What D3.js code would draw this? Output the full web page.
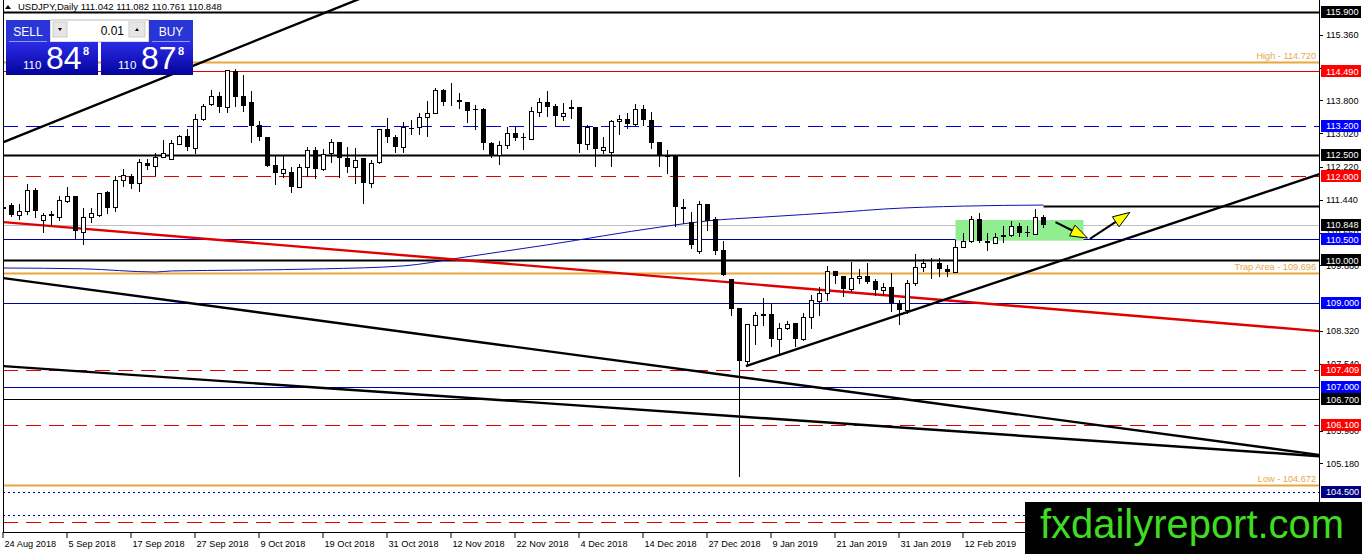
<!DOCTYPE html>
<html lang="en">
<head>
<meta charset="utf-8">
<title>USDJPY Daily</title>
<style>
  body {
    margin: 0;
    padding: 0;
    overflow: hidden;
    background: #fff;
  }
  text {
    font-family: "Liberation Sans", Arial, sans-serif;
  }
</style>
<script src="https://d3js.org/d3.v7.min.js"></script>
</head>
<body>
<script>

// daily bars (bar 0 = 24 Aug 2018)
var opens = [
  111.250,111.315,111.078,111.173,111.672,110.959,111.101,111.030,111.410,111.529,
  110.674,111.030,111.078,111.624,111.268,111.909,112.004,111.838,112.313,112.242,
  112.456,112.408,112.765,112.955,112.670,113.359,113.715,113.905,113.644,114.499,
  113.905,113.762,113.216,112.931,112.266,112.076,112.100,111.743,112.218,112.622,
  112.171,112.551,112.812,112.432,112.218,112.432,111.838,112.337,113.121,112.931,
  112.693,113.145,113.169,113.406,113.501,114.047,113.800,113.810,113.762,113.596,
  113.596,112.788,112.503,112.741,113.026,112.931,112.883,113.525,113.762,113.667,
  113.430,113.620,113.644,112.765,113.169,112.622,112.575,113.311,113.359,113.240,
  113.596,113.335,112.812,112.480,112.480,111.268,110.912,110.223,111.339,110.983,
  110.247,109.557,108.869,107.610,108.465,108.710,108.726,108.133,108.394,108.513,
  108.133,108.655,109.036,109.226,109.748,109.629,109.320,109.581,109.629,109.510,
  109.297,109.368,108.988,108.822,109.463,109.843,109.930,109.938,109.795,109.724,
  110.318,110.461,110.983,110.461,110.413,110.580,110.603,110.817,110.674,110.627,
  111.042
];
var highs = [
  111.434,111.363,111.339,111.814,111.719,111.125,111.173,111.529,111.743,111.540,
  111.244,111.244,111.610,111.648,112.004,112.171,112.051,112.408,112.408,112.551,
  112.860,112.860,112.978,113.121,113.478,113.715,114.047,113.999,114.530,114.546,
  114.404,114.023,113.311,112.940,112.503,112.480,112.218,112.290,112.693,112.693,
  112.646,112.883,112.820,112.693,112.670,112.440,112.385,113.130,113.383,112.978,
  113.288,113.335,113.501,113.786,114.095,114.071,114.214,113.976,113.770,113.691,
  113.620,112.812,112.836,113.169,113.169,113.026,113.644,113.857,114.023,113.715,
  113.738,113.810,113.650,113.216,113.170,112.931,113.335,113.453,113.501,113.715,
  113.691,113.525,112.820,112.622,112.490,111.458,111.149,111.410,111.350,111.030,
  110.461,109.560,108.880,108.500,108.774,109.106,108.988,108.513,108.560,108.520,
  108.750,109.178,109.368,109.867,109.750,109.630,109.961,109.795,109.938,109.557,
  109.463,109.700,109.059,109.534,110.152,110.033,110.057,110.057,109.890,110.484,
  110.651,111.054,111.125,110.651,110.651,110.817,110.935,110.888,110.817,111.220,
  111.082
];
var lows = [
  111.078,111.030,110.959,111.078,111.007,110.650,110.815,110.935,111.363,110.484,
  110.366,110.888,111.030,111.101,111.149,111.743,111.696,111.624,112.147,112.004,
  112.432,112.385,112.741,112.598,112.527,113.311,113.667,113.501,113.501,113.644,
  113.525,112.788,112.836,112.218,111.790,111.957,111.600,111.719,111.981,111.933,
  112.124,112.313,111.957,112.076,111.814,111.339,111.719,112.290,112.788,112.551,
  112.551,112.978,112.978,112.931,113.478,113.667,113.667,113.596,113.264,113.097,
  112.622,112.432,112.266,112.646,112.836,112.622,112.870,113.406,113.406,113.169,
  113.311,113.359,112.551,112.622,112.218,112.527,112.218,112.978,113.121,113.192,
  113.192,112.646,112.218,112.052,110.793,110.864,110.271,110.152,110.698,110.128,
  109.629,108.679,104.855,107.491,107.990,108.440,107.942,107.729,108.346,107.942,
  108.085,108.370,108.679,109.036,109.439,109.131,109.249,109.439,109.439,109.154,
  109.154,108.774,108.465,108.726,109.392,109.724,109.557,109.605,109.605,109.720,
  110.310,110.413,110.413,110.223,110.410,110.413,110.556,110.556,110.556,110.603,
  110.761
];
var closes = [
  111.280,111.078,111.173,111.672,111.173,111.078,111.054,111.434,111.529,110.698,
  111.030,111.125,111.600,111.244,111.909,112.028,111.814,112.337,112.242,112.456,
  112.551,112.788,112.955,112.693,113.359,113.667,113.905,113.644,114.522,113.881,
  113.667,113.192,112.931,112.242,112.076,112.171,111.743,112.218,112.622,112.171,
  112.527,112.812,112.432,112.218,112.385,111.838,112.313,113.121,112.931,112.693,
  113.169,113.130,113.406,113.501,114.047,113.762,113.810,113.762,113.549,113.572,
  112.788,112.503,112.741,113.026,112.907,112.907,113.549,113.762,113.644,113.430,
  113.501,113.644,112.765,113.169,112.646,112.693,113.311,113.359,113.240,113.596,
  113.335,112.788,112.480,112.456,111.268,111.220,110.366,111.339,110.935,110.223,
  109.653,108.845,107.610,108.489,108.702,108.726,108.133,108.394,108.489,108.133,
  108.655,109.059,109.226,109.748,109.629,109.320,109.581,109.629,109.486,109.297,
  109.368,108.988,108.822,109.463,109.843,109.938,109.938,109.795,109.724,110.318,
  110.461,110.983,110.461,110.413,110.556,110.603,110.817,110.651,110.660,111.030,
  110.848
];

// moving average, sampled at a few bars
var maBars   = [0, 10, 19, 21, 30, 40, 50, 57, 68, 82, 88, 95, 105, 110, 120, 130];
var maValues = [109.82, 109.80, 109.725, 109.75, 109.77, 109.80, 109.87, 110.06, 110.37,
                110.79, 110.94, 111.03, 111.15, 111.22, 111.29, 111.315];
var maEndLevel = 111.29;

var dateBars   = [0, 8, 16, 24, 32, 40, 48, 56, 64, 72, 80, 88, 96, 104, 112, 120];
var dateLabels = ["24 Aug 2018", "5 Sep 2018", "17 Sep 2018", "27 Sep 2018", "9 Oct 2018",
                  "19 Oct 2018", "31 Oct 2018", "12 Nov 2018", "22 Nov 2018", "4 Dec 2018",
                  "14 Dec 2018", "27 Dec 2018", "9 Jan 2019", "21 Jan 2019", "31 Jan 2019",
                  "12 Feb 2019"];

// scale values; the ones sitting under a level box only peek out, as in the picture
var priceTicks = [115.36, 114.58, 113.80, 113.02, 112.22, 111.44, 110.66, 109.88,
                  108.32, 107.54, 105.96, 105.18];

// horizontal levels
var solidBlack = [115.9, 112.5, 110.0];
var thinBlack  = [106.7];
var solidRed   = [114.49];
var dashRed    = [112.0, 107.409, 106.1];
var solidBlue  = [110.5, 109.0, 107.0];
var dashBlue   = [113.2];
var dotNavy    = [104.5];
// lines whose price boxes sit under the watermark
var hiddenRed  = [103.79];
var hiddenNavy = [103.95];
var zoneLevels = [114.72, 109.696, 104.672];
var zoneNames  = ["High", "Trap Area", "Low"];
var lastPrice  = 110.848;
var bidPrice   = 110.848;
var askPrice   = 110.878;
var lotSize    = "0.01";

// trend lines as [bar, price] pairs
var upperLine   = [[0, 112.81], [45, 116.25]];
var redLine     = [[0, 110.91], [164.5, 108.32]];
var downLineA   = [[0, 109.58], [164.5, 105.38]];
var downLineB   = [[0, 107.49], [164.5, 105.35]];
var supportLine = [[92.8, 107.49], [164.5, 112.05]];

var boxBars   = [119, 135];
var boxPrices = [110.96, 110.47];
var arrowStarts = [[131.5, 110.91], [135.8, 110.51]];
var arrowEnds   = [[135.5, 110.53], [140.8, 111.14]];

var W = 1362, H = 554;
var left = 3, right = 1319, bottom = 532;

var xs = d3.scaleLinear().domain([0, 164.5]).range([3.5, 1319.5]);
var ys = d3.scaleLinear().domain([115.9, 104.5]).range([12, 492]);

svg = d3.select('body').append('svg')
    .attr('width', W)
    .attr('height', H);

svg.append('rect').attr('width', W).attr('height', H).attr('fill', '#fff');

var defs = svg.append('defs');
defs.append('clipPath').attr('id', 'plotClip')
    .append('rect').attr('x', left).attr('y', 0).attr('width', right - left).attr('height', bottom);

var grad = defs.append('linearGradient').attr('id', 'panelBlue')
    .attr('x1', 0).attr('y1', 0).attr('x2', 0).attr('y2', 1);
grad.append('stop').attr('offset', '0%').attr('stop-color', '#2c2ce8');
grad.append('stop').attr('offset', '100%').attr('stop-color', '#03039c');

var plot = svg.append('g').attr('clip-path', 'url(#plotClip)');

function py(v) { return Math.round(ys(v)) + 0.5; }

var levelGroups = [
  {vals: dotNavy.concat(hiddenNavy), stroke: '#000080', width: 1, dash: '2,3'},
  {vals: dashRed.concat(hiddenRed),  stroke: '#e00000', width: 1, dash: '15,8'},
  {vals: dashBlue,   stroke: '#0000d0', width: 1,   dash: '15,8'},
  {vals: solidBlue,  stroke: '#0000a8', width: 1,   dash: null},
  {vals: solidRed,   stroke: '#e00000', width: 1,   dash: null},
  {vals: thinBlack,  stroke: '#000',    width: 1,   dash: null},
  {vals: [lastPrice],stroke: '#c0c0c0', width: 1,   dash: null},
  {vals: zoneLevels, stroke: '#eaa63c', width: 2.2, dash: null},
  {vals: solidBlack, stroke: '#000',    width: 2,   dash: null}
];

levelGroups.forEach(function(g) {
  plot.append('g').selectAll('line').data(g.vals).join('line')
      .attr('x1', left).attr('x2', right)
      .attr('y1', function(d) { return py(d); })
      .attr('y2', function(d) { return py(d); })
      .attr('stroke', g.stroke)
      .attr('stroke-width', g.width)
      .attr('stroke-dasharray', g.dash);
});

var tl = d3.line()
    .x(function(d) { return xs(d[0]); })
    .y(function(d) { return ys(d[1]); });

// moving average and its extension
var maPts = maBars.map(function(b, i) { return [b, maValues[i]]; });
plot.append('path').attr('d', d3.line().curve(d3.curveMonotoneX)
        .x(function(d) { return xs(d[0]); }).y(function(d) { return ys(d[1]); })(maPts))
    .attr('fill', 'none').attr('stroke', '#1010b0').attr('stroke-width', 1);
plot.append('line')
    .attr('x1', xs(130)).attr('x2', right)
    .attr('y1', py(maEndLevel)).attr('y2', py(maEndLevel))
    .attr('stroke', '#000').attr('stroke-width', 2);

[[redLine, '#e00000'], [upperLine, '#000'], [downLineA, '#000'], [downLineB, '#000'], [supportLine, '#000']]
  .forEach(function(l) {
    plot.append('path').attr('d', tl(l[0]))
        .attr('fill', 'none').attr('stroke', l[1]).attr('stroke-width', 2.4);
  });

plot.append('rect')
    .attr('x', xs(boxBars[0])).attr('y', ys(boxPrices[0]))
    .attr('width', xs(boxBars[1]) - xs(boxBars[0]))
    .attr('height', ys(boxPrices[1]) - ys(boxPrices[0]))
    .attr('fill', '#90ee90');

// candles
var bars = d3.range(opens.length);
var cg = plot.append('g');
cg.selectAll('line.wick').data(bars).join('line')
    .attr('class', 'wick')
    .attr('x1', function(i) { return xs(i); })
    .attr('x2', function(i) { return xs(i); })
    .attr('y1', function(i) { return Math.round(ys(highs[i])); })
    .attr('y2', function(i) { return Math.round(ys(lows[i])); })
    .attr('stroke', '#000').attr('stroke-width', 1);

cg.selectAll('rect.body').data(bars).join('rect')
    .attr('class', 'body')
    .each(function(i) {
      var yt = Math.round(ys(Math.max(opens[i], closes[i])));
      var yb = Math.round(ys(Math.min(opens[i], closes[i])));
      var el = d3.select(this);
      if (closes[i] >= opens[i]) {
        el.attr('x', xs(i) - 2).attr('y', yt + 0.5)
          .attr('width', 4).attr('height', Math.max(yb - yt, 0))
          .attr('fill', '#fff').attr('stroke', '#000').attr('stroke-width', 1);
      } else {
        el.attr('x', xs(i) - 2.5).attr('y', yt)
          .attr('width', 5).attr('height', Math.max(yb - yt, 1))
          .attr('fill', '#000');
      }
    });

// arrows
arrowStarts.forEach(function(s, k) {
  var x0 = xs(s[0]), y0 = ys(s[1]);
  var x1 = xs(arrowEnds[k][0]), y1 = ys(arrowEnds[k][1]);
  var dx = x1 - x0, dy = y1 - y0, len = Math.sqrt(dx * dx + dy * dy);
  var ux = dx / len, uy = dy / len;
  var hl = 17, hw = 6;
  var bx = x1 - ux * hl, by = y1 - uy * hl;
  plot.append('line').attr('x1', x0).attr('y1', y0).attr('x2', bx).attr('y2', by)
      .attr('stroke', '#000').attr('stroke-width', 2);
  plot.append('path')
      .attr('d', 'M' + x1 + ',' + y1 +
                 'L' + (bx - uy * hw) + ',' + (by + ux * hw) +
                 'L' + (bx + uy * hw) + ',' + (by - ux * hw) + 'Z')
      .attr('fill', '#ffff00').attr('stroke', '#000').attr('stroke-width', 1);
});

plot.append('g').selectAll('text').data(zoneLevels).join('text')
    .attr('x', right - 3)
    .attr('y', function(d) { return ys(d) - 3; })
    .attr('text-anchor', 'end')
    .attr('font-size', '9.2px')
    .attr('fill', '#e6a849')
    .text(function(d, i) { return zoneNames[i] + ' - ' + d.toFixed(3); });

// frame
svg.append('line').attr('x1', left + 0.5).attr('x2', left + 0.5).attr('y1', 0).attr('y2', bottom)
    .attr('stroke', '#000');
svg.append('line').attr('x1', right + 0.5).attr('x2', right + 0.5).attr('y1', 0).attr('y2', bottom + 1)
    .attr('stroke', '#000');
svg.append('line').attr('x1', left).attr('x2', right + 1).attr('y1', bottom + 0.5).attr('y2', bottom + 0.5)
    .attr('stroke', '#000');

// price axis
var ax = svg.append('g');
ax.selectAll('line').data(priceTicks).join('line')
    .attr('x1', right).attr('x2', right + 4)
    .attr('y1', function(d) { return py(d); }).attr('y2', function(d) { return py(d); })
    .attr('stroke', '#000');
ax.selectAll('text').data(priceTicks).join('text')
    .attr('x', right + 7).attr('y', function(d) { return ys(d) + 3.3; })
    .attr('font-size', '9.2px').attr('fill', '#000')
    .text(function(d) { return d.toFixed(3); });

var boxGroups = [
  {vals: solidBlack.concat(thinBlack), fill: '#000'},
  {vals: solidRed.concat(dashRed), fill: '#ff0000'},
  {vals: solidBlue.concat(dashBlue), fill: '#0000ff'},
  {vals: dotNavy, fill: '#000080'},
  {vals: [lastPrice], fill: '#000'}
];
boxGroups.forEach(function(g) {
  var gg = svg.append('g');
  gg.selectAll('rect').data(g.vals).join('rect')
      .attr('x', right + 2).attr('y', function(d) { return Math.round(ys(d)) - 6; })
      .attr('width', 40).attr('height', 12).attr('fill', g.fill);
  gg.selectAll('text').data(g.vals).join('text')
      .attr('x', right + 7).attr('y', function(d) { return ys(d) + 3.3; })
      .attr('font-size', '9.2px').attr('fill', '#fff')
      .text(function(d) { return d.toFixed(3); });
});

// time axis
var tx = svg.append('g');
tx.selectAll('line').data(dateBars).join('line')
    .attr('x1', function(d) { return xs(d) - 0.5; }).attr('x2', function(d) { return xs(d) - 0.5; })
    .attr('y1', bottom).attr('y2', bottom + 6)
    .attr('stroke', '#000');
tx.selectAll('text').data(dateBars).join('text')
    .attr('x', function(d) { return xs(d) + 1; }).attr('y', 547)
    .attr('font-size', '9.2px').attr('fill', '#000')
    .text(function(d, i) { return dateLabels[i]; });

// header
svg.append('path').attr('d', 'M5,9 L8,5 L11,9 Z').attr('fill', '#000');
svg.append('text').attr('x', 18).attr('y', 10).attr('font-size', '9.5px').attr('fill', '#000')
    .text('USDJPY,Daily ' + [opens[130], highs[130], lows[130], closes[130]]
        .map(function(v) { return v.toFixed(3); }).join(' '));

// one-click trading panel
var panel = svg.append('g');
panel.append('rect').attr('x', 50).attr('y', 20).attr('width', 99).attr('height', 22).attr('fill', '#fff')
    .attr('stroke', '#bbb');
panel.append('rect').attr('x', 53).attr('y', 22).attr('width', 14).attr('height', 15).attr('fill', '#e6e6e6')
    .attr('stroke', '#ccc');
panel.append('rect').attr('x', 129).attr('y', 22).attr('width', 16).attr('height', 15).attr('fill', '#e6e6e6')
    .attr('stroke', '#ccc');
panel.append('path').attr('d', 'M58,28 L62,28 L60,31 Z').attr('fill', '#000');
panel.append('path').attr('d', 'M135,31 L139,31 L137,28 Z').attr('fill', '#000');
panel.append('text').attr('x', 124).attr('y', 35).attr('text-anchor', 'end')
    .attr('font-size', '12px').attr('fill', '#000').text(lotSize);

[[6, 'SELL', bidPrice], [101, 'BUY', askPrice]].forEach(function(p, k) {
  var x = p[0];
  var bx = k === 0 ? 6 : 149;
  panel.append('rect').attr('x', bx).attr('y', 20).attr('width', 44).attr('height', 24)
      .attr('fill', '#2a35d6');
  panel.append('rect').attr('x', x).attr('y', 42).attr('width', 92).attr('height', 33)
      .attr('fill', 'url(#panelBlue)');
  panel.append('line').attr('x1', bx + 3).attr('x2', bx + 41).attr('y1', 41.5).attr('y2', 41.5)
      .attr('stroke', '#8c9af0');
  panel.append('text').attr('x', bx + 22).attr('y', 36).attr('text-anchor', 'middle')
      .attr('font-size', '12px').attr('fill', '#fff').text(p[1]);
  var s = p[2].toFixed(3);
  panel.append('text').attr('x', x + 17).attr('y', 69)
      .attr('font-size', '11.5px').attr('fill', '#fff').text(s.slice(0, 3));
  panel.append('text').attr('x', x + 40).attr('y', 69)
      .attr('font-size', '32px').attr('fill', '#fff').text(s.slice(4, 6));
  panel.append('text').attr('x', x + 77).attr('y', 55)
      .attr('font-size', '11px').attr('font-weight', 'bold').attr('fill', '#fff').text(s.slice(6));
});

// watermark
svg.append('rect').attr('x', 1025).attr('y', 502).attr('width', W - 1025).attr('height', H - 502)
    .attr('fill', '#000');
svg.append('text').attr('x', 1040).attr('y', 538)
    .attr('font-size', '40px').attr('fill', '#3fdc22')
    .attr('textLength', 304).attr('lengthAdjust', 'spacingAndGlyphs')
    .text('fxdailyreport.com');

</script>
</body>
</html>
